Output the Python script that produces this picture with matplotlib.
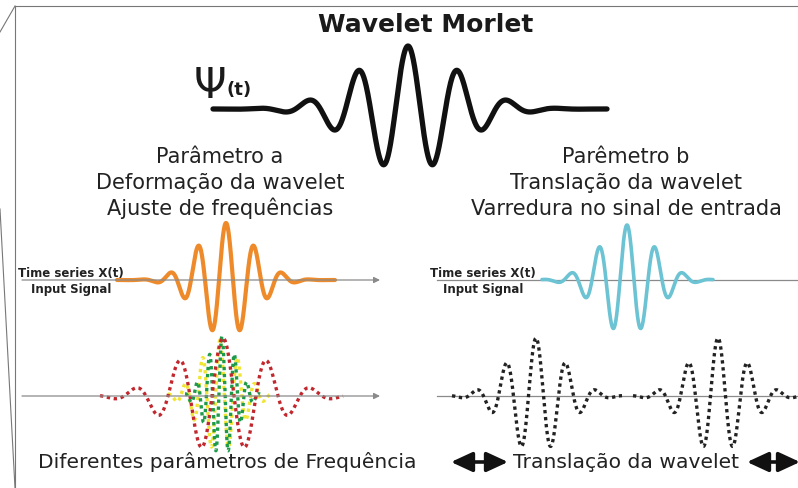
import numpy as np
import matplotlib.pyplot as plt

# Morlet wavelets (pixel units of the 798x489 image)
# centre x, baseline y, amplitude, period, envelope sigma, x start, x end
mother_wave = [408, 110, 63, 50, 50, 213, 607]
orange_wave = [226, 281, 57, 28, 27.5, 117, 335]
cyan_wave = [627, 281, 55, 28, 27.5, 542, 713]
red_wave = [223, 397, 58, 44, 44, 100, 343]
yellow_wave = [220, 397, 56, 17.5, 20, 168, 272]
green_wave = [222, 397, 60, 12.5, 14.5, 185, 260]
black_wave1 = [536, 397, 58, 30, 28, 452, 622]
black_wave2 = [718, 397, 58, 30, 28, 633, 798]

block_a = ["Parâmetro a", "Deformação da wavelet", "Ajuste de frequências"]
block_b = ["Parêmetro b", "Translação da wavelet", "Varredura no sinal de entrada"]
signal_label = ["Time series X(t)", "Input Signal"]


def morlet_line(w, n=1500):
    c, base, amp, per, sig, x0, x1 = w
    x = np.linspace(x0, x1, n)
    u = x - c
    y = amp * np.exp(-u**2 / (2 * sig**2)) * np.cos(2 * np.pi * u / per)
    return x, base - y


fig = plt.figure(figsize=(7.98, 4.89), dpi=100)
ax = fig.add_axes([0, 0, 1, 1])
ax.set_xlim(0, 798)
ax.set_ylim(489, 0)
ax.axis("off")

# frame
fr = "#777777"
ax.plot([15, 798], [7, 7], color=fr, lw=0.8)
ax.plot([15, 15], [7, 489], color=fr, lw=0.8)
ax.plot([15, 0], [7, 33], color=fr, lw=0.8)
ax.plot([0, 15], [210, 489], color=fr, lw=0.8)

# title + mother wavelet
ax.text(426, 32, "Wavelet Morlet", fontsize=18, fontweight="bold",
        ha="center", va="baseline", color="#1a1a1a")
ax.text(194, 98, "Ψ", fontsize=30, ha="left", va="baseline", color="#1a1a1a")
ax.text(226, 95, "(t)", fontsize=13, fontweight="bold", ha="left",
        va="baseline", color="#1a1a1a")
x, y = morlet_line(mother_wave)
ax.plot(x, y, color="#111111", lw=3.8, solid_capstyle="round")

# text blocks
for i, s in enumerate(block_a):
    ax.text(220, 163 + 26 * i, s, fontsize=15, ha="center", va="baseline", color="#222222")
for i, s in enumerate(block_b):
    ax.text(626, 163 + 26 * i, s, fontsize=15, ha="center", va="baseline", color="#222222")

# axis lines
ax_col = "#8a8a8a"
for yy in (281, 397):
    ax.annotate("", xy=(380, yy), xytext=(22, yy),
                arrowprops=dict(arrowstyle="-|>", color=ax_col, lw=0.9,
                                mutation_scale=9, shrinkA=0, shrinkB=0))
    ax.plot([437, 798], [yy, yy], color=ax_col, lw=0.9)

# input signal labels
for cx in (71, 483):
    ax.text(cx, 277.5, signal_label[0], fontsize=8.5, fontweight="bold",
            ha="center", va="baseline", color="#222222")
    ax.text(cx, 293, signal_label[1], fontsize=8.5, fontweight="bold",
            ha="center", va="baseline", color="#222222")

# solid wavelets
x, y = morlet_line(orange_wave)
ax.plot(x, y, color="#EE8A2A", lw=3.0, solid_capstyle="round")
x, y = morlet_line(cyan_wave)
ax.plot(x, y, color="#6CC3D3", lw=2.6, solid_capstyle="round")

# dotted wavelets
dots = (0, (1, 1.1))
x, y = morlet_line(yellow_wave)
ax.plot(x, y, color="#F0E534", lw=2.4, ls=dots)
x, y = morlet_line(green_wave)
ax.plot(x, y, color="#1F9A4A", lw=2.4, ls=dots)
x, y = morlet_line(red_wave)
ax.plot(x, y, color="#C1272D", lw=2.4, ls=dots)
for w in (black_wave1, black_wave2):
    x, y = morlet_line(w)
    ax.plot(x, y, color="#222222", lw=2.4, ls=dots)

# bottom captions
ax.text(227, 468, "Diferentes parâmetros de Frequência", fontsize=14.6,
        ha="center", va="baseline", color="#222222")
ax.text(626, 468, "Translação da wavelet", fontsize=14.6,
        ha="center", va="baseline", color="#222222")
for x0, x1 in ((451, 508), (747, 800)):
    ax.annotate("", xy=(x1, 463), xytext=(x0, 463), annotation_clip=False,
                arrowprops=dict(arrowstyle="<|-|>,head_length=1.3,head_width=0.6",
                                color="#111111", lw=2.6,
                                mutation_scale=10, shrinkA=0, shrinkB=0))

fig.savefig("out.png", dpi=100)
